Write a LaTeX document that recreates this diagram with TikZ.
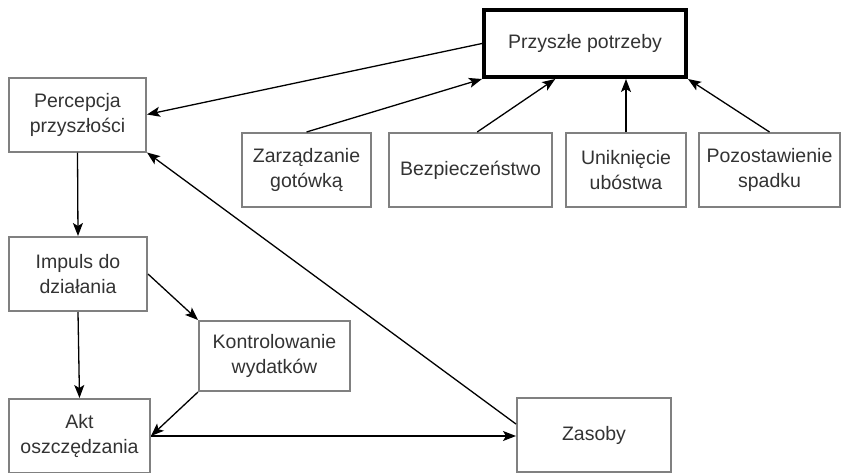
\documentclass[tikz,border=0pt]{standalone}
\usepackage{fontspec}
\setmainfont{Liberation Sans}
\usetikzlibrary{arrows.meta}
\definecolor{grisRamki}{HTML}{808080}
\definecolor{grisTekstu}{HTML}{333333}
\colorlet{colRamka}{grisRamki}
\colorlet{colTekst}{grisTekstu}
\colorlet{colStrzalka}{black}
\tikzset{
  ramkaBazowa/.style={
    draw=colRamka, line width=2pt, rectangle,
    minimum height=74pt, inner sep=2pt,
    align=center, font=\fontsize{19.5}{25}\selectfont, text=colTekst,
    fill=white
  },
  ramkaGlowna/.style={ramkaBazowa, draw=black, line width=4pt,
    minimum width=202pt, minimum height=67pt},
  strzalka/.style={-{Stealth[length=13pt, width=10pt, inset=3pt]},
    line width=1.3pt, colStrzalka},
}
\begin{document}
\begin{tikzpicture}[x=1pt, y=1pt]
    \useasboundingbox (0,0) rectangle (844,-472);
    % gorny rzad
    \node[ramkaGlowna] (potrzeby) at (585,-43.5) {Przyszłe potrzeby};
    \node[ramkaBazowa, minimum width=137pt] (percepcja) at (77.5,-114.5) {Percepcja\\przyszłości};
    \node[ramkaBazowa, minimum width=129pt] (gotowka) at (306.5,-170) {Zarządzanie\\gotówką};
    \node[ramkaBazowa, minimum width=163pt] (bezpieczenstwo) at (470.5,-170) {Bezpieczeństwo};
    \node[ramkaBazowa, minimum width=120pt] (ubostwo) at (626,-170) {Uniknięcie\\ubóstwa};
    \node[ramkaBazowa, minimum width=141pt] (spadek) at (769.5,-170) {Pozostawienie\\spadku};
    % lewa kolumna i dol
    \node[ramkaBazowa, minimum width=138pt] (impuls) at (78,-274) {Impuls do\\działania};
    \node[ramkaBazowa, minimum width=151pt, minimum height=70pt] (wydatki) at (274.5,-356) {Kontrolowanie\\wydatków};
    \node[ramkaBazowa, minimum width=141pt] (akt) at (79.5,-436) {Akt\\oszczędzania};
    \node[ramkaBazowa, minimum width=154pt] (zasoby) at (594,-435) {Zasoby};
    % strzalki
    \draw[strzalka] (potrzeby.west) -- (percepcja.east);
    \draw[strzalka] (gotowka.north) -- (potrzeby.south west);
    \draw[strzalka] (bezpieczenstwo.80) -- (potrzeby.-130);
    \draw[strzalka] (ubostwo.north) -- (ubostwo.north |- potrzeby.south);
    \draw[strzalka] (spadek.north) -- (potrzeby.south east);
    \draw[strzalka] (percepcja.south) -- (impuls.north);
    \draw[strzalka] (zasoby.172) -- (percepcja.south east);
    \draw[strzalka] (impuls.east) -- (wydatki.north west);
    \draw[strzalka] (wydatki.south west) -- (akt.east);
    \draw[strzalka] (impuls.south) -- (akt.north);
    \draw[strzalka] (akt.east) -- (akt.east -| zasoby.west);
\end{tikzpicture}
\end{document}
